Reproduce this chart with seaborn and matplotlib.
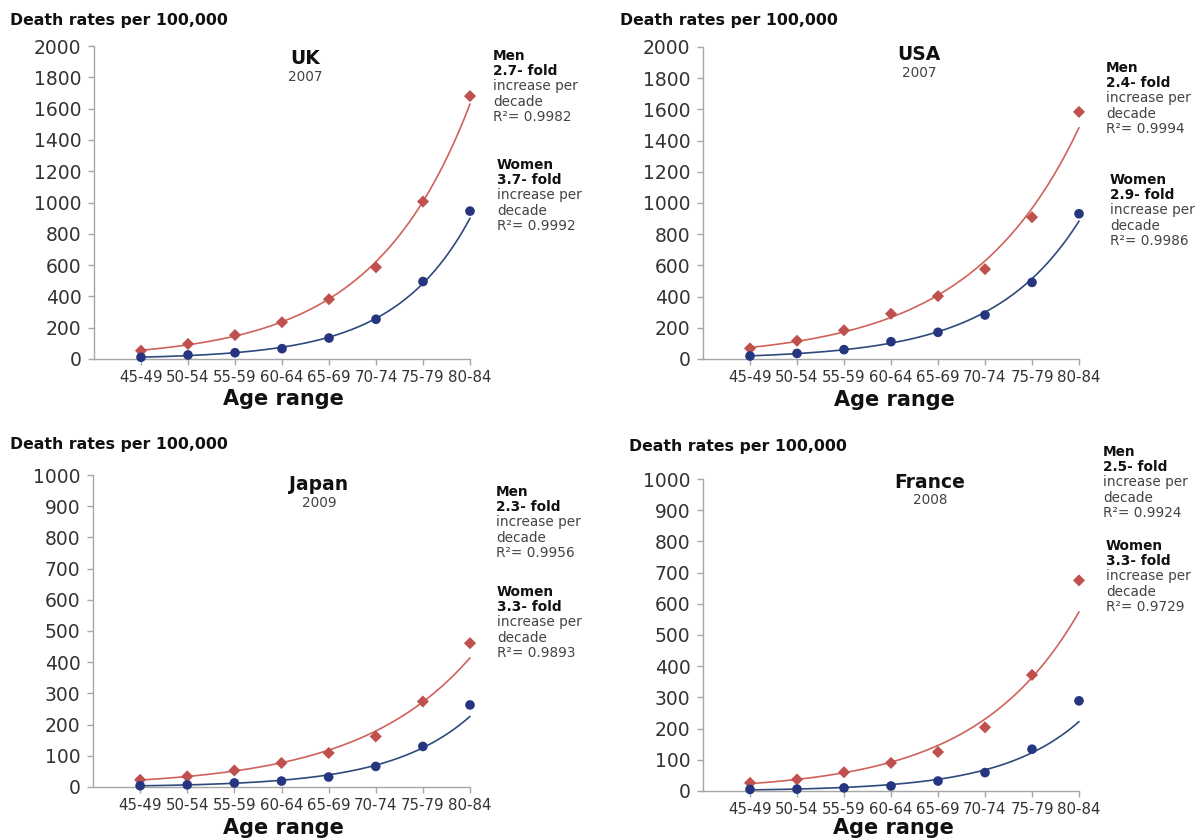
import numpy as np
import pandas as pd
import matplotlib
matplotlib.use("Agg")
import matplotlib.pyplot as plt
import seaborn as sns

# ---------------- data ----------------
ages = ["45-49", "50-54", "55-59", "60-64", "65-69", "70-74", "75-79", "80-84"]

uk_men = [53, 96, 153, 235, 382, 586, 1006, 1680]
uk_women = [11, 26, 40, 66, 134, 254, 495, 945]
usa_men = [68, 117, 184, 290, 403, 576, 909, 1584]
usa_women = [19, 36, 60, 111, 171, 282, 491, 931]
japan_men = [23, 34, 53, 77, 109, 162, 274, 461]
japan_women = [4, 7, 13, 19, 32, 66, 130, 263]
france_men = [26, 37, 60, 90, 125, 204, 372, 675]
france_women = [5, 6, 10, 16, 32, 59, 134, 289]

countries = ["UK", "USA", "Japan", "France"]
years = ["2007", "2007", "2009", "2008"]
men_fold = ["2.7", "2.4", "2.3", "2.5"]
men_r2 = ["0.9982", "0.9994", "0.9956", "0.9924"]
women_fold = ["3.7", "2.9", "3.3", "3.3"]
women_r2 = ["0.9992", "0.9986", "0.9893", "0.9729"]
y_max = [2000, 2000, 1000, 1000]
y_step = [200, 200, 100, 100]

men_series = [uk_men, usa_men, japan_men, france_men]
women_series = [uk_women, usa_women, japan_women, france_women]

# ---------------- style ----------------
sns.set_style("white")
plt.rcParams["font.family"] = ["DejaVu Sans"]

W, H = 1202, 839
fig = plt.figure(figsize=(W / 100, H / 100), dpi=100)

MEN_C = "#C0504D"
MEN_LINE = "#D0625C"
WOMEN_C = "#263580"
WOMEN_LINE = "#2E4A7A"
AX_C = "#A6A6A6"
TXT_C = "#333333"


def ax_at(l, t, r, b):
    return fig.add_axes([l / W, 1 - b / H, (r - l) / W, (b - t) / H])


def ftext(x, y, s, **kw):
    fig.text(x / W, 1 - y / H, s, **kw)


boxes = [(94, 46, 470, 359), (703, 47, 1079, 359),
         (93, 475, 470, 787), (703, 479, 1079, 791)]
title_pos = [(305, 59), (919, 55), (319, 485), (930, 482)]
men_pos = [(493, 56), (1106, 68), (496, 492), (1103, 452)]
women_pos = [(497, 165), (1110, 180), (497, 592), (1106, 546)]
ylab_pos = [(10, 20), (620, 20), (10, 445), (629, 447)]
xlab_pos = [(283, 399), (894, 400), (283, 828), (893, 828)]

x_idx = np.arange(len(ages))
grid = np.linspace(0, len(ages) - 1, 200)


def exp_fit(y):
    b, a = np.polyfit(x_idx, np.log(np.asarray(y, float)), 1)
    return np.exp(a + b * grid)


for i in range(4):
    ax = ax_at(*boxes[i])
    df = pd.DataFrame({"x": np.concatenate([x_idx, x_idx]),
                       "y": men_series[i] + women_series[i],
                       "sex": ["Men"] * 8 + ["Women"] * 8})
    men_df = df[df.sex == "Men"]
    women_df = df[df.sex == "Women"]

    sns.lineplot(x=grid, y=exp_fit(men_series[i]), color=MEN_LINE, lw=1.2,
                 ax=ax, clip_on=False)
    sns.lineplot(x=grid, y=exp_fit(women_series[i]), color=WOMEN_LINE, lw=1.2,
                 ax=ax, clip_on=False)
    sns.scatterplot(data=men_df, x="x", y="y", marker="D", s=38, color=MEN_C,
                    edgecolor="none", ax=ax, clip_on=False, zorder=5)
    sns.scatterplot(data=women_df, x="x", y="y", marker="o", s=48, color=WOMEN_C,
                    edgecolor="none", ax=ax, clip_on=False, zorder=5)

    ax.set_xlim(-1, len(ages) - 1)
    ax.set_ylim(0, y_max[i])
    ax.set_yticks(np.arange(0, y_max[i] + 1, y_step[i]))
    ax.set_xticks(x_idx)
    ax.set_xticklabels(ages)
    ax.set_xlabel("")
    ax.set_ylabel("")
    sns.despine(ax=ax)
    for sp in ("left", "bottom"):
        ax.spines[sp].set_color(AX_C)
        ax.spines[sp].set_linewidth(1.0)
    ax.tick_params(axis="y", left=True, length=4, width=1, color=AX_C,
                   labelsize=13.5, labelcolor=TXT_C, pad=5)
    ax.tick_params(axis="x", bottom=True, length=4, width=1, color=AX_C,
                   labelsize=10.8, labelcolor=TXT_C, pad=4)
    ax.patch.set_alpha(0)

    # texts
    ftext(*ylab_pos[i], "Death rates per 100,000", fontsize=11.3,
          fontweight="bold", color="#111111", ha="left", va="center")
    ftext(*xlab_pos[i], "Age range", fontsize=15, fontweight="bold",
          color="#111111", ha="center", va="center")
    tx, ty = title_pos[i]
    ftext(tx, ty, countries[i], fontsize=13.5, fontweight="bold",
          color="#111111", ha="center", va="center")
    ftext(tx, ty + 18, years[i], fontsize=9.8, color="#444444",
          ha="center", va="center")

    for (px, py), head, fold, r2 in [(men_pos[i], "Men", men_fold[i], men_r2[i]),
                                      (women_pos[i], "Women", women_fold[i], women_r2[i])]:
        lines = [(head, "bold"), (fold + "- fold", "bold"),
                 ("increase per", "normal"), ("decade", "normal"),
                 ("R²= " + r2, "normal")]
        for k, (s, w) in enumerate(lines):
            ftext(px, py + k * 15.2, s, fontsize=9.8, fontweight=w,
                  color="#111111" if w == "bold" else "#444444",
                  ha="left", va="center")

fig.savefig("out.png", dpi=100, facecolor="white")
